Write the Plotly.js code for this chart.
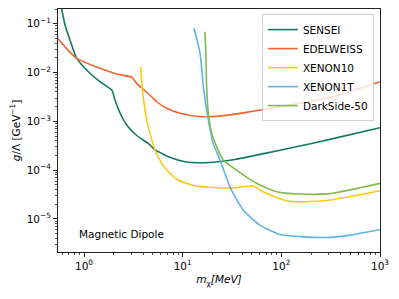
<!DOCTYPE html>
<html>
<head>
<meta charset="utf-8">
<script src="https://cdn.plot.ly/plotly-3.0.1.min.js"></script>
<style>html,body{margin:0;padding:0;background:#fff;}#chart{width:399px;height:299px;}</style>
</head>
<body>
<div id="chart"></div>
<script>
// ---- data ----
var senseiX = [0.57, 0.594, 0.642, 0.721, 0.844, 1.15, 1.45, 1.91, 2.06, 2.32, 2.71, 3.28, 4.0, 4.48, 5.24, 6.13, 7.15, 10.55, 15.6, 23.0, 33.9, 68.2, 154, 310, 1000];
var senseiY = [0.31, 0.2, 0.094, 0.0463, 0.0195, 0.00964, 0.00648, 0.00438, 0.00273, 0.00148, 0.00084, 0.00055, 0.00041, 0.000354, 0.000262, 0.00022, 0.000188, 0.000149, 0.000142, 0.000149, 0.000166, 0.000221, 0.000312, 0.000427, 0.00074];

var edelX = [0.54, 0.642, 0.844, 1.45, 2.15, 3.04, 3.42, 3.99, 4.85, 5.45, 6.89, 9.4, 15.0, 23.9, 48.1, 154, 333, 1000];
var edelY = [0.05, 0.0334, 0.0195, 0.0122, 0.0093, 0.00797, 0.00601, 0.00453, 0.00319, 0.00252, 0.00185, 0.00146, 0.00125, 0.00128, 0.00157, 0.00234, 0.00319, 0.00648];

var xe10X = [3.75, 3.91, 4.15, 4.32, 4.66, 5.24, 6.13, 7.15, 9.02, 13.3, 22.9, 33.9, 51.9, 68.2, 113, 180, 311, 1000];
var xe10Y = [0.01315, 0.00438, 0.00171, 0.00106, 0.000567, 0.000262, 0.000138, 9.27e-5, 6.27e-5, 4.79e-5, 4.36e-5, 4.36e-5, 4.72e-5, 3.44e-5, 2.36e-5, 2.25e-5, 2.44e-5, 3.78e-5];

var xe1tX = [13.0, 15.0, 16.2, 18.2, 20.4, 23.9, 30.2, 41.1, 60.7, 96.8, 154, 311, 495, 1000];
var xe1tY = [0.0805, 0.0247, 0.00512, 0.00106, 0.000354, 0.000161, 4.51e-5, 1.52e-5, 7.5e-6, 4.8e-6, 4.36e-6, 4.2e-6, 4.68e-6, 6.12e-6];

var ds50X = [16.8, 17.2, 17.5, 18.2, 19.7, 22.1, 25.8, 35.2, 48.1, 60.7, 89.6, 154, 311, 1000];
var ds50Y = [0.0686, 0.0247, 0.00512, 0.00146, 0.000567, 0.000302, 0.000161, 0.0001, 6.48e-5, 4.95e-5, 3.61e-5, 3.24e-5, 3.31e-5, 5.37e-5];

var seriesNames = ["SENSEI", "EDELWEISS", "XENON10", "XENON1T", "DarkSide-50"];

var xTickVals = [1, 10, 100, 1000];
var xTickText = ["10<sup>0</sup>", "10<sup>1</sup>", "10<sup>2</sup>", "10<sup>3</sup>"];
var yTickVals = [1e-5, 1e-4, 1e-3, 1e-2, 1e-1];
var yTickText = ["10<sup>\u22125</sup>", "10<sup>\u22124</sup>", "10<sup>\u22123</sup>", "10<sup>\u22122</sup>", "10<sup>\u22121</sup>"];

var annotationText = "Magnetic Dipole";
var xTitle = "<i>m</i><sub>\u03c7</sub><i>[MeV]</i>";
var yTitle = "<i>g</i>/\u039b [GeV<sup>\u22121</sup>]";

// ---- styling ----
var colors = ["#127a62", "#f4642f", "#fcc812", "#5cb6e6", "#84b94b"];
var FS = 10.5;

function minorVals(lo, hi) {
  var v = [];
  for (var e = lo; e <= hi; e++) {
    for (var k = 2; k <= 9; k++) v.push(k * Math.pow(10, e));
  }
  return v;
}

var xs = [senseiX, edelX, xe10X, xe1tX, ds50X];
var ys = [senseiY, edelY, xe10Y, xe1tY, ds50Y];
var traces = [];
for (var i = 0; i < 5; i++) {
  traces.push({
    x: xs[i], y: ys[i], type: "scatter", mode: "lines", name: seriesNames[i],
    line: {color: colors[i], width: 1.6, shape: "spline", smoothing: 0.6}
  });
}

var font = {family: "DejaVu Sans", size: FS, color: "#000"};
var layout = {
  width: 399, height: 299,
  margin: {l: 58, r: 19, t: 9, b: 47},
  paper_bgcolor: "#fff", plot_bgcolor: "#fff",
  font: font,
  showlegend: true,
  legend: {
    x: 0.981, y: 0.979, xanchor: "right", yanchor: "top",
    bgcolor: "rgba(255,255,255,0.8)", bordercolor: "#d0d0d0", borderwidth: 1,
    font: {family: "DejaVu Sans", size: FS, color: "#000"}
  },
  xaxis: {
    type: "log", range: [Math.log10(0.545), 3],
    showgrid: false, zeroline: false,
    showline: true, linecolor: "#222", linewidth: 1, mirror: true,
    ticks: "outside", ticklen: 4, tickwidth: 1, tickcolor: "#222",
    tickmode: "array", tickvals: xTickVals, ticktext: xTickText,
    tickfont: {family: "DejaVu Sans", size: FS, color: "#000"},
    minor: {ticks: "outside", ticklen: 2, tickwidth: 0.8, tickcolor: "#222", tickmode: "array", tickvals: minorVals(-1, 2), showgrid: false},
    title: {text: xTitle, font: {family: "DejaVu Sans", size: FS}, standoff: 5}
  },
  yaxis: {
    type: "log", range: [-5.676, -0.699],
    showgrid: false, zeroline: false,
    showline: true, linecolor: "#222", linewidth: 1, mirror: true,
    ticks: "outside", ticklen: 4, tickwidth: 1, tickcolor: "#222",
    tickmode: "array", tickvals: yTickVals, ticktext: yTickText,
    tickfont: {family: "DejaVu Sans", size: FS, color: "#000"},
    minor: {ticks: "outside", ticklen: 2, tickwidth: 0.8, tickcolor: "#222", tickmode: "array", tickvals: minorVals(-6, -1), showgrid: false},
    title: {text: yTitle, font: {family: "DejaVu Sans", size: FS}, standoff: 4}
  },
  annotations: [{
    text: annotationText, xref: "paper", yref: "paper",
    x: 0.058, y: 0.074, xanchor: "left", yanchor: "middle",
    showarrow: false, font: {family: "DejaVu Sans", size: FS, color: "#000"}
  }]
};

Plotly.newPlot("chart", traces, layout, {staticPlot: true, displayModeBar: false});
</script>
</body>
</html>
